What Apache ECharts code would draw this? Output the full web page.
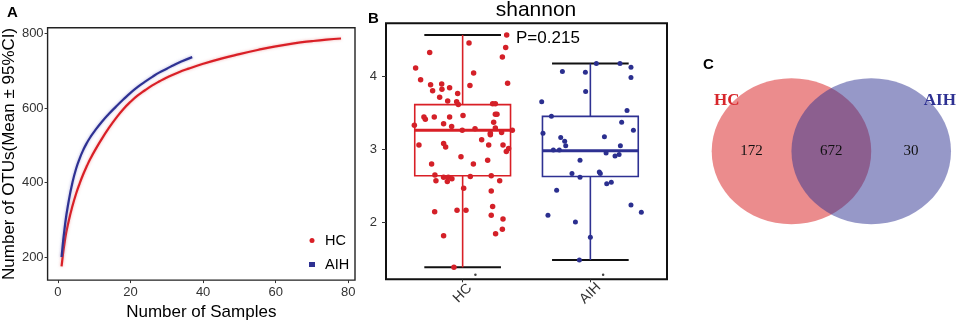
<!DOCTYPE html>
<html>
<head>
<meta charset="utf-8">
<script src="https://cdn.jsdelivr.net/npm/echarts@6/dist/echarts.min.js"></script>
<style>
html, body { margin: 0; padding: 0; background: #fff; }
#chart { width: 957px; height: 326px; }
</style>
</head>
<body>
<div id="chart"></div>
<script>
// A: rarefaction curves (number of samples -> OTUs)
var hcSamples = [1, 2, 3, 4, 5, 6, 7, 8, 9, 10, 12, 14, 16, 18, 20, 22, 24, 26, 28, 30, 33, 36, 40, 45, 50, 55, 60, 65, 70, 74, 78];
var hcOtus = [175, 250, 298, 337, 370, 398, 423, 445, 465, 483, 516, 546, 573, 597, 617, 634, 648, 661, 672, 682, 695, 706, 719, 733, 745, 756, 766, 774, 780, 784, 787];
var aihSamples = [1, 2, 3, 4, 5, 6, 7, 8, 9, 10, 12, 14, 16, 18, 20, 22, 24, 26, 28, 30, 32, 34, 37];
var aihOtus = [200, 290, 352, 400, 437, 465, 488, 507, 523, 537, 562, 584, 604, 623, 641, 657, 671, 684, 696, 706, 716, 725, 737];
var rareXTicks = [0, 20, 40, 60, 80];
var rareYTicks = [200, 400, 600, 800];

// B: shannon index per sample (jitter = horizontal offset from group centre)
var shannonGroups = ['HC', 'AIH'];
var hcJitter = [0.345, 0.050, 0.337, -0.258, 0.311, -0.368, -0.329, 0.086, 0.352, -0.251, -0.164, -0.235, -0.162, -0.102, 0.057, -0.180, -0.039, -0.117, -0.047, -0.034,
  0.235, 0.256, -0.303, -0.292, -0.222, -0.102, 0.003, 0.243, 0.256, 0.269, -0.378, -0.149, -0.086, 0.256, 0.097, 0.217, 0.217, 0.305, 0.389, -0.003,
  0.149, -0.342, -0.149, -0.133, 0.204, 0.316, 0.360, 0.342, -0.243, -0.013, 0.084, 0.196, -0.217, -0.209, -0.149, -0.120, -0.112, -0.084, 0.060, 0.224,
  0.290, 0.008, 0.224, -0.219, -0.044, 0.026, 0.235, 0.224, 0.316, -0.149, 0.311, 0.258, -0.068];
var hcShannon = [4.56, 4.45, 4.39, 4.32, 4.26, 4.11, 3.95, 4.04, 3.90, 3.88, 3.89, 3.80, 3.82, 3.84, 3.87, 3.71, 3.76, 3.66, 3.65, 3.61,
  3.62, 3.62, 3.44, 3.41, 3.44, 3.44, 3.46, 3.37, 3.48, 3.48, 3.33, 3.35, 3.31, 3.29, 3.28, 3.22, 3.20, 3.23, 3.26, 3.26,
  3.13, 3.06, 3.08, 3.03, 3.06, 3.06, 3.01, 2.97, 2.80, 2.90, 2.80, 2.85, 2.65, 2.57, 2.62, 2.56, 2.62, 2.60, 2.63, 2.64,
  2.57, 2.47, 2.43, 2.15, 2.17, 2.17, 2.22, 2.10, 2.05, 1.82, 1.91, 1.85, 1.39];
var aihJitter = [0.047, 0.232, 0.318, 0.318, -0.219, -0.039, -0.037, -0.381, -0.305, 0.287, 0.245, 0.337, -0.371, -0.232, -0.201, -0.193, 0.110, 0.235, -0.290, -0.243,
  0.123, 0.193, 0.225, -0.081, -0.144, -0.081, 0.070, 0.078, 0.128, 0.164, -0.264, 0.318, 0.399, -0.332, -0.117, 0.000, -0.086];
var aihShannon = [4.17, 4.17, 4.12, 3.98, 4.06, 4.05, 3.79, 3.65, 3.45, 3.53, 3.37, 3.26, 3.22, 3.16, 3.11, 3.05, 3.17, 3.05, 2.99, 2.99,
  2.95, 2.91, 2.93, 2.85, 2.67, 2.62, 2.69, 2.67, 2.53, 2.55, 2.44, 2.24, 2.14, 2.10, 2.01, 1.80, 1.49];
var boxMin = [1.39, 1.49];
var boxQ1 = [2.64, 2.63];
var boxMedian = [3.26, 2.98];
var boxQ3 = [3.61, 3.45];
var boxMax = [4.56, 4.17];
var outlierDots = [1.29, 1.29];
var shannonTicks = [2, 3, 4];
var pText = 'P=0.215';

// C: venn (HC only, shared, AIH only)
var vennSets = ['HC', 'AIH'];
var vennCounts = [172, 672, 30];

var red = '#D91F26';
var blue = '#2E3192';
var groupColors = [red, blue];
var sans = 'Liberation Sans';
var serif = 'Liberation Serif';

function seriesPairs(xs, ys) {
	return xs.map(function (x, i) { return [x, ys[i]]; });
}

function jitterPairs(groupIndex, jit, vals) {
	return jit.map(function (d, i) { return [groupIndex + 1 + d, vals[i]]; });
}

function renderBox(params, api) {
	var x = api.value(0);
	var c = groupColors[params.dataIndex];
	var pt = function (dx, v) { return api.coord([x + dx, v]); };
	var seg = function (a, b) { return { x1: a[0], y1: a[1], x2: b[0], y2: b[1] }; };
	var lo = api.value(1), q1 = api.value(2), md = api.value(3), q3 = api.value(4), hi = api.value(5);
	var tl = pt(-0.375, q3), br = pt(0.375, q1);
	return {
		type: 'group',
		children: [
			{ type: 'line', shape: seg(pt(-0.3, hi), pt(0.3, hi)), style: { stroke: '#111', lineWidth: 2 } },
			{ type: 'line', shape: seg(pt(-0.3, lo), pt(0.3, lo)), style: { stroke: '#111', lineWidth: 2 } },
			{ type: 'line', shape: seg(pt(0, hi), pt(0, q3)), style: { stroke: c, lineWidth: 1.6 } },
			{ type: 'line', shape: seg(pt(0, q1), pt(0, lo)), style: { stroke: c, lineWidth: 1.6 } },
			{ type: 'rect', shape: { x: tl[0], y: tl[1], width: br[0] - tl[0], height: br[1] - tl[1] }, style: { fill: 'none', stroke: c, lineWidth: 1.6 } },
			{ type: 'line', shape: seg(pt(-0.375, md), pt(0.375, md)), style: { stroke: c, lineWidth: 3 } }
		]
	};
}

function renderPValue(params, api) {
	var c = api.coord([api.value(0), api.value(1)]);
	return {
		type: 'text', x: c[0], y: c[1],
		style: { text: pText, fill: '#000', font: '17px "' + sans + '"', align: 'left', verticalAlign: 'middle' }
	};
}

var vennFill = ['rgba(215,25,28,0.5)', 'rgba(46,49,146,0.5)'];
var vennLabelColor = ['#D7262B', '#2E3192'];

function renderVenn(params, api) {
	var i = params.dataIndex;
	var c = api.coord([api.value(0), api.value(1)]);
	var r = api.size([1, 1]);
	return { type: 'ellipse', shape: { cx: c[0], cy: c[1], rx: r[0], ry: r[1] }, style: { fill: vennFill[i] } };
}

function renderVennSetName(params, api) {
	var i = params.dataIndex;
	var c = api.coord([api.value(0), api.value(1)]);
	return {
		type: 'text', x: c[0], y: c[1],
		style: { text: vennSets[i], fill: vennLabelColor[i], font: 'bold 17px "' + serif + '"', align: 'center', verticalAlign: 'middle' }
	};
}

function renderVennCount(params, api) {
	var c = api.coord([api.value(0), api.value(1)]);
	return {
		type: 'text', x: c[0], y: c[1],
		style: { text: String(vennCounts[params.dataIndex]), fill: '#111', font: '15px "' + serif + '"', align: 'center', verticalAlign: 'middle' }
	};
}

var tickLine = { color: '#333', width: 1 };
var panelLetter = { fontSize: 15, fontWeight: 'bold', color: '#000', fontFamily: sans };

var option = {
	animation: false,
	backgroundColor: '#fff',
	textStyle: { fontFamily: sans },
	title: [
		{ text: 'A', left: 7, top: 5, padding: 0, textStyle: panelLetter },
		{ text: 'B', left: 368, top: 11, padding: 0, textStyle: panelLetter },
		{ text: 'C', left: 703, top: 57, padding: 0, textStyle: panelLetter },
		{ text: 'shannon', left: 536, top: 0, padding: 0, textAlign: 'center', textStyle: { fontSize: 21, fontWeight: 'normal', color: '#000', fontFamily: sans } }
	],
	legend: {
		data: [{ name: 'HC', icon: 'circle' }, { name: 'AIH', icon: 'path://M0,0h6v5h-6z' }],
		orient: 'vertical',
		left: 304,
		top: 228,
		itemWidth: 16,
		itemHeight: 5,
		itemGap: 9,
		textStyle: { fontSize: 14.5, color: '#000', fontFamily: sans }
	},
	grid: [
		{ left: 45.7, top: 27.7, width: 309.3, height: 255, show: true, borderColor: '#222', borderWidth: 1.4, backgroundColor: 'transparent' },
		{ left: 386, top: 23.3, width: 281, height: 256, show: true, borderColor: '#111', borderWidth: 2, backgroundColor: 'transparent' },
		{ left: 711.7, top: 78.3, width: 239.3, height: 146 }
	],
	xAxis: [
		{
			gridIndex: 0, type: 'value', min: -2.85, max: 81.85,
			name: 'Number of Samples', nameLocation: 'middle', nameGap: 23,
			nameTextStyle: { fontSize: 17, color: '#000', fontFamily: sans },
			axisLine: { show: false, onZero: false },
			axisTick: { show: true, inside: false, length: 3, customValues: rareXTicks, lineStyle: tickLine },
			axisLabel: { customValues: rareXTicks, margin: 6, fontSize: 13, color: '#333', fontFamily: sans },
			splitLine: { show: false }
		},
		{
			gridIndex: 1, type: 'value', min: 0.4, max: 2.6,
			axisLine: { show: false, onZero: false },
			axisTick: { show: true, inside: false, length: 3, customValues: [1, 2], lineStyle: tickLine },
			axisLabel: {
				customValues: [1, 2], rotate: 45, margin: 14, align: 'center', verticalAlign: 'middle',
				fontSize: 14, color: '#333', fontFamily: sans,
				formatter: function (v) { return shannonGroups[Math.round(v) - 1]; }
			},
			splitLine: { show: false }
		},
		{ gridIndex: 2, type: 'value', min: 0, max: 3, show: false }
	],
	yAxis: [
		{
			gridIndex: 0, type: 'value', min: 138, max: 816,
			name: 'Number of OTUs(Mean \u00b1 95%CI)', nameLocation: 'middle', nameGap: 27,
			nameTextStyle: { fontSize: 17, color: '#000', fontFamily: sans },
			axisLine: { show: false, onZero: false },
			axisTick: { show: true, inside: false, length: 3, customValues: rareYTicks, lineStyle: tickLine },
			axisLabel: { customValues: rareYTicks, margin: 4, fontSize: 13, color: '#333', fontFamily: sans },
			splitLine: { show: false }
		},
		{
			gridIndex: 1, type: 'value', min: 1.227, max: 4.719,
			axisLine: { show: false, onZero: false },
			axisTick: { show: true, inside: false, length: 4, customValues: shannonTicks, lineStyle: tickLine },
			axisLabel: { customValues: shannonTicks, margin: 9, fontSize: 13, color: '#333', fontFamily: sans },
			splitLine: { show: false }
		},
		{ gridIndex: 2, type: 'value', min: -1, max: 1, show: false }
	],
	series: [
		{
			name: 'HC', type: 'line', xAxisIndex: 0, yAxisIndex: 0,
			data: seriesPairs(hcSamples, hcOtus), smooth: 0.5, showSymbol: false, color: red,
			lineStyle: { width: 2.2, color: red, shadowColor: 'rgba(230,90,90,0.5)', shadowBlur: 3 }
		},
		{
			name: 'AIH', type: 'line', xAxisIndex: 0, yAxisIndex: 0,
			data: seriesPairs(aihSamples, aihOtus), smooth: 0.5, showSymbol: false, color: blue,
			lineStyle: { width: 2.2, color: blue, shadowColor: 'rgba(120,120,200,0.6)', shadowBlur: 3 }
		},
		{
			name: 'shannon box', type: 'custom', xAxisIndex: 1, yAxisIndex: 1,
			renderItem: renderBox,
			encode: { x: 0, y: [1, 2, 3, 4, 5] },
			data: shannonGroups.map(function (g, i) { return [i + 1, boxMin[i], boxQ1[i], boxMedian[i], boxQ3[i], boxMax[i]]; }),
			z: 2
		},
		{
			name: 'shannon HC', type: 'scatter', xAxisIndex: 1, yAxisIndex: 1,
			data: jitterPairs(0, hcJitter, hcShannon), symbolSize: 5.5,
			itemStyle: { color: '#D42028', opacity: 1 }, z: 3
		},
		{
			name: 'shannon AIH', type: 'scatter', xAxisIndex: 1, yAxisIndex: 1,
			data: jitterPairs(1, aihJitter, aihShannon), symbolSize: 5,
			itemStyle: { color: '#2B2F8F', opacity: 1 }, z: 3
		},
		{
			name: 'dots', type: 'scatter', xAxisIndex: 1, yAxisIndex: 1,
			data: outlierDots.map(function (v, i) { return [i + 1.1, v]; }), symbolSize: 2.5,
			itemStyle: { color: '#111' }, z: 3
		},
		{
			name: 'p value', type: 'custom', xAxisIndex: 1, yAxisIndex: 1,
			renderItem: renderPValue, data: [[1.418, 4.51]], z: 4
		},
		{
			name: 'venn', type: 'custom', xAxisIndex: 2, yAxisIndex: 2,
			renderItem: renderVenn,
			data: vennSets.map(function (s, i) { return [i + 1, 0]; })
		},
		{
			name: 'venn sets', type: 'custom', xAxisIndex: 2, yAxisIndex: 2,
			renderItem: renderVennSetName,
			data: [[0.19, 0.7], [2.86, 0.7]], z: 3
		},
		{
			name: 'venn counts', type: 'custom', xAxisIndex: 2, yAxisIndex: 2,
			renderItem: renderVennCount,
			data: vennCounts.map(function (n, i) { return [i + 0.5, 0]; }), z: 3
		}
	]
};

var chart = echarts.init(document.getElementById('chart'));
chart.setOption(option);
</script>
</body>
</html>
